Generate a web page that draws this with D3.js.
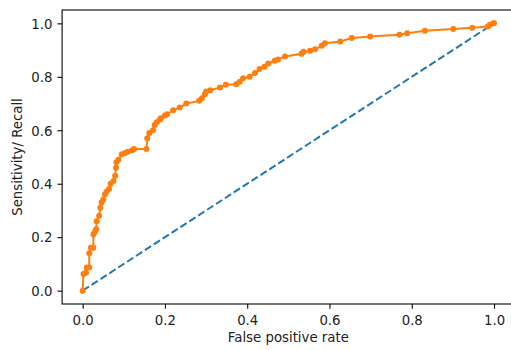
<!DOCTYPE html>
<html>
<head>
<meta charset="utf-8">
<script src="https://cdn.jsdelivr.net/npm/d3@7"></script>
<style>
  body { margin: 0; background: #fff; }
  svg { display: block; }
  .tick text { font-family: "DejaVu Sans", sans-serif; font-size: 13.3px; fill: #222; }
  .lbl { font-family: "DejaVu Sans", sans-serif; font-size: 13.3px; fill: #222; }
</style>
</head>
<body>
<svg id="chart"></svg>
<script>
// ROC curve points
const fpr = [0, 0.002, 0.008, 0.010, 0.016, 0.016, 0.020, 0.026, 0.026, 0.030, 0.033, 0.034,
  0.040, 0.043, 0.046, 0.050, 0.054, 0.058, 0.064, 0.068, 0.075, 0.079, 0.081, 0.082, 0.087,
  0.095, 0.103, 0.110, 0.120, 0.125, 0.155, 0.157, 0.162, 0.171, 0.175, 0.180, 0.188, 0.190,
  0.200, 0.205, 0.220, 0.236, 0.252, 0.283, 0.290, 0.297, 0.300, 0.310, 0.334, 0.348, 0.373,
  0.382, 0.390, 0.406, 0.419, 0.430, 0.442, 0.451, 0.467, 0.475, 0.492, 0.532, 0.537, 0.553,
  0.565, 0.581, 0.589, 0.626, 0.654, 0.699, 0.770, 0.789, 0.832, 0.901, 0.947, 0.985, 0.990,
  0.998, 1.0];
const tpr = [0, 0.062, 0.067, 0.087, 0.087, 0.140, 0.160, 0.160, 0.210, 0.220, 0.230, 0.260,
  0.280, 0.310, 0.330, 0.340, 0.360, 0.370, 0.380, 0.400, 0.410, 0.430, 0.460, 0.480, 0.490,
  0.510, 0.515, 0.520, 0.525, 0.530, 0.530, 0.570, 0.590, 0.600, 0.620, 0.630, 0.640, 0.645,
  0.655, 0.660, 0.675, 0.685, 0.700, 0.710, 0.720, 0.735, 0.745, 0.750, 0.760, 0.770, 0.772,
  0.782, 0.795, 0.800, 0.814, 0.829, 0.838, 0.850, 0.860, 0.865, 0.876, 0.886, 0.894, 0.898,
  0.903, 0.916, 0.926, 0.932, 0.945, 0.951, 0.957, 0.963, 0.972, 0.979, 0.984, 0.988, 0.995,
  1.0, 1.0];
const chance = [0, 1];
const ticks = [0, 0.2, 0.4, 0.6, 0.8, 1.0];

const width = 511, height = 350;
const svg = d3.select("#chart").attr("width", width).attr("height", height);

// axes box (right edge falls outside the picture)
const m = { left: 62.1, right: 514.6, top: 10, bottom: 304 };

const x = d3.scaleLinear().domain([-0.05, 1.05]).range([m.left, m.right]);
const y = d3.scaleLinear().domain([-0.05, 1.05]).range([m.bottom, m.top]);

// chance line
svg.append("path")
  .datum(chance)
  .attr("d", d3.line().x(d => x(d)).y(d => y(d)))
  .attr("fill", "none")
  .attr("stroke", "#1f77b4")
  .attr("stroke-width", 2)
  .attr("stroke-dasharray", "7.4,3.2");

// ROC curve
const pts = fpr.map((f, i) => [f, tpr[i]]);
svg.append("path")
  .datum(pts)
  .attr("d", d3.line().x(d => x(d[0])).y(d => y(d[1])))
  .attr("fill", "none")
  .attr("stroke", "#ff7f0e")
  .attr("stroke-width", 2);

svg.append("g").selectAll("circle")
  .data(pts)
  .enter().append("circle")
  .attr("cx", d => x(d[0]))
  .attr("cy", d => y(d[1]))
  .attr("r", 3)
  .attr("fill", "#ff7f0e");

// spines
svg.append("rect")
  .attr("x", m.left).attr("y", m.top)
  .attr("width", m.right - m.left).attr("height", m.bottom - m.top)
  .attr("fill", "none").attr("stroke", "#000").attr("stroke-width", 1.07);

const fmt = d3.format(".1f");

const gx = svg.append("g").attr("transform", "translate(0," + m.bottom + ")")
  .call(d3.axisBottom(x).tickValues(ticks).tickFormat(fmt).tickSize(4.7).tickSizeOuter(0));
gx.select(".domain").remove();
gx.selectAll(".tick line").attr("stroke", "#000").attr("stroke-width", 1.07);
gx.selectAll(".tick text").attr("y", 21.4).attr("dy", 0);

const gy = svg.append("g").attr("transform", "translate(" + m.left + ",0)")
  .call(d3.axisLeft(y).tickValues(ticks).tickFormat(fmt).tickSize(4.7).tickSizeOuter(0));
gy.select(".domain").remove();
gy.selectAll(".tick line").attr("stroke", "#000").attr("stroke-width", 1.07);
gy.selectAll(".tick text").attr("x", -9.6).attr("dy", "0.36em");

gx.attr("font-family", null).attr("font-size", null);
gy.attr("font-family", null).attr("font-size", null);

// axis labels
svg.append("text").attr("class", "lbl")
  .attr("x", (m.left + m.right) / 2).attr("y", 342)
  .attr("text-anchor", "middle")
  .text("False positive rate");

svg.append("text").attr("class", "lbl")
  .attr("transform", "translate(22.3," + (m.top + m.bottom) / 2 + ") rotate(-90)")
  .attr("text-anchor", "middle")
  .text("Sensitivity/ Recall");
</script>
</body>
</html>
